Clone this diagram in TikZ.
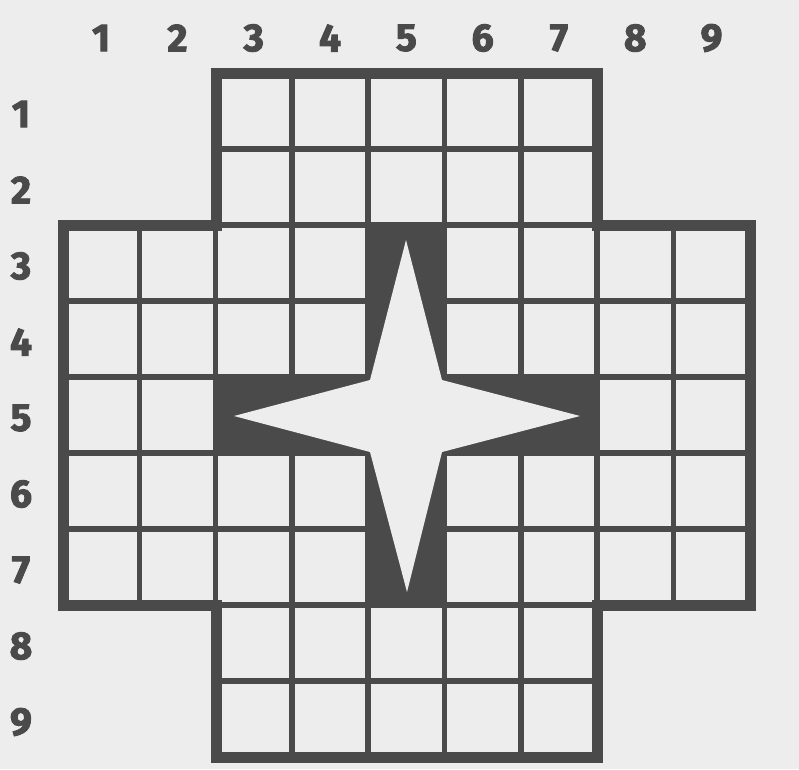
\documentclass[tikz,border=0pt]{standalone}
\usepackage{fontspec}
\setmainfont{Fira Sans}[BoldFeatures={FakeBold=2.5}]
\definecolor{ink}{gray}{0.29}
\definecolor{paper}{gray}{0.93}
\begin{document}
\begin{tikzpicture}[x=1pt,y=-1pt,
  innerline/.style={draw=ink,line width=5.5pt},
  outerline/.style={draw=ink,line width=11pt,line join=miter},
  lbl/.style={text=ink,font=\fontsize{39}{39}\selectfont\bfseries,inner sep=0pt,anchor=center}]
\fill[paper] (0,0) rectangle (799,769);
\useasboundingbox (0,0) rectangle (799,769);
\def\crosspath{(216,73) -- (597,73) -- (597,225) -- (750,225) -- (750,605) -- (597,605) -- (597,757) -- (216,757) -- (216,605) -- (63,605) -- (63,225) -- (216,225) -- cycle}
% inner grid lines, clipped to the cross
\begin{scope}
  \clip \crosspath;
  \foreach \k in {1,...,8} {
    \draw[innerline] ({63+76.3*\k},60) -- ({63+76.3*\k},770);
    \draw[innerline] (50,{73+76*\k}) -- (760,{73+76*\k});
  }
\end{scope}
% black cross band
\fill[ink] (366,223) -- (446,223) -- (446,376) -- (597,376) -- (597,455) -- (446,455) -- (446,607) -- (366,607) -- (366,455) -- (214,455) -- (214,376) -- (366,376) -- cycle;
% white four-pointed star
\fill[paper] (406,240) -- (442,380) -- (580,416) -- (442,452) -- (407,592) -- (370,452) -- (234,416) -- (370,380) -- cycle;
% outer border
\draw[outerline] \crosspath;
% column labels
\foreach \k in {1,...,9} {
  \node[lbl] (c\k) at ({63+76.3*(\k-0.5)},38) {\k};
}
% row labels
\foreach \k in {1,...,9} {
  \node[lbl] (r\k) at (21,{73+76*(\k-0.5)+3}) {\k};
}
\end{tikzpicture}
\end{document}
